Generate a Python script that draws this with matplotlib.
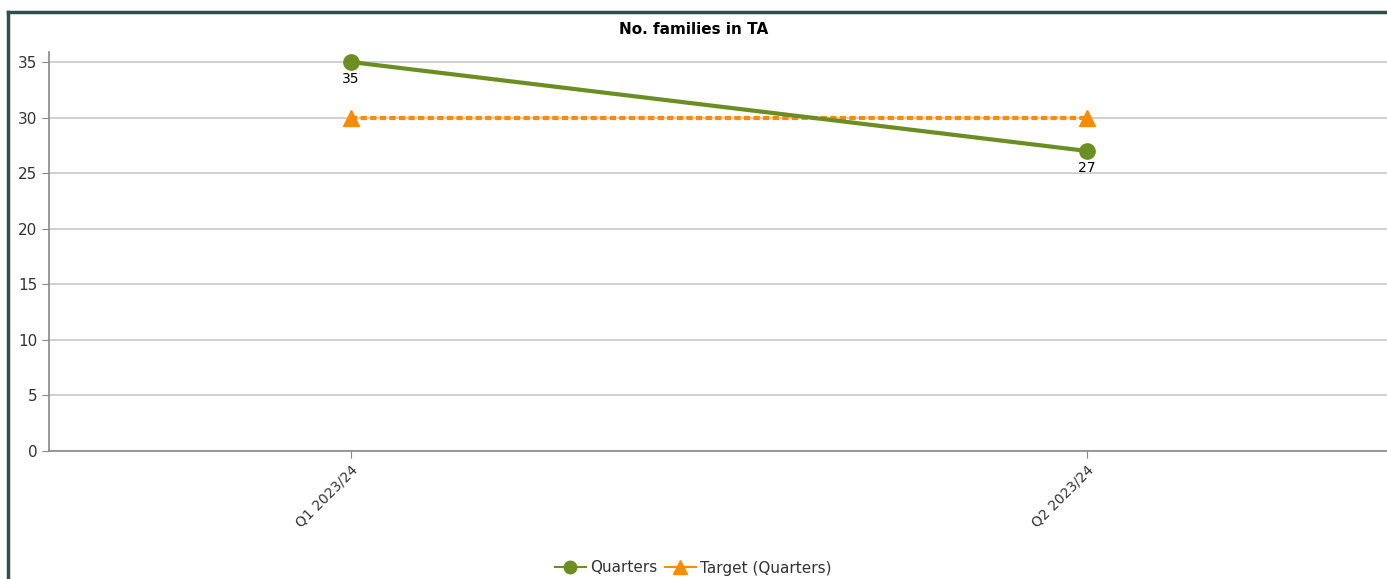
import matplotlib.pyplot as plt
from matplotlib.lines import Line2D

# Chart data
quarters = ['Q1 2023/24', 'Q2 2023/24']
families = [35, 27]
target = [30, 30]
y_ticks = [0, 5, 10, 15, 20, 25, 30, 35]

plt.rcParams.update({
    'font.family': ['DejaVu Sans'],
    'font.size': 10,
})

fig = plt.figure(figsize=(13.87, 5.79), dpi=100)
ax = fig.add_axes([49 / 1387, 1 - 451 / 579, 1 - 49 / 1387, (451 - 52) / 579])

x = list(range(len(quarters)))

ax.plot(x, target, color='#FF8C00', lw=3, ls=(0, (1.5, 0.8)),
        marker='^', ms=12, label='Target (Quarters)', zorder=3)
ax.plot(x, families, color='#6B8E23', lw=3, marker='o', ms=11,
        label='Quarters', zorder=4)

for xi, v in zip(x, families):
    ax.annotate(str(v), (xi, v), xytext=(0, -7), textcoords='offset points',
                ha='center', va='top', fontsize=10, color='black')

ax.set_xlim(-0.41, 1.408)
ax.set_ylim(0, 35.9)
ax.set_yticks(y_ticks)
ax.set_xticks(x)
ax.set_xticklabels(quarters, rotation=45, ha='right', rotation_mode='anchor',
                   fontsize=10, color='#333333')
ax.tick_params(axis='y', colors='#333333', labelsize=11, length=5, color='#888888')
ax.tick_params(axis='x', length=5, color='#888888')

ax.grid(axis='y', color='#c8c8c8', lw=1.2)
ax.set_axisbelow(True)
for side in ['top', 'right']:
    ax.spines[side].set_visible(False)
for side in ['left', 'bottom']:
    ax.spines[side].set_color('#888888')
    ax.spines[side].set_linewidth(1.2)

fig.text(0.5, 1 - 30 / 579, 'No. families in TA', ha='center', va='center',
         fontsize=11, fontweight='bold')

# legend with thin line handles like the original
leg_handles = [
    Line2D([], [], color='#6B8E23', lw=1.5, marker='o', ms=9),
    Line2D([], [], color='#FF8C00', lw=1.5, marker='^', ms=10),
]
fig.legend(leg_handles, ['Quarters', 'Target (Quarters)'], loc='center',
           bbox_to_anchor=(0.5, 1 - 568 / 579), ncol=2, frameon=False,
           fontsize=11, handlelength=2.0, columnspacing=0.5, handletextpad=0.3,
           labelcolor='#333333')

# screenshot frame on the left and top
frame = '#2F4F4F'
fig.add_artist(Line2D([8 / 1387, 8 / 1387], [0, 1 - 12 / 579], color=frame, lw=2.5))
fig.add_artist(Line2D([8 / 1387, 1], [1 - 12 / 579, 1 - 12 / 579], color=frame, lw=2.5))

fig.savefig('out.png', dpi=100)
